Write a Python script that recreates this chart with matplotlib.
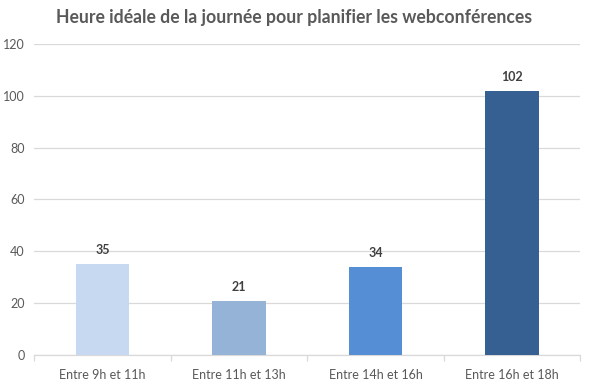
import matplotlib
matplotlib.use("Agg")
import matplotlib.pyplot as plt

categories = ["Entre 9h et 11h", "Entre 11h et 13h", "Entre 14h et 16h", "Entre 16h et 18h"]
values = [35, 21, 34, 102]
colors = ["#C6D9F1", "#95B3D7", "#558ED5", "#366092"]
yticks = [0, 20, 40, 60, 80, 100, 120]

plt.rcParams['font.family'] = ['Lato', 'DejaVu Sans']

fig = plt.figure(figsize=(5.92, 3.88), dpi=100)
ax = fig.add_axes([0.058, 0.085, 0.922, 0.802])

x = list(range(len(categories)))
bars = ax.bar(x, values, width=0.39, color=colors, zorder=3)
for xi, v in zip(x, values):
    ax.text(xi, v + 3, str(v), ha="center", va="bottom", fontsize=9,
            fontweight="bold", color="#404040")

ax.set_xlim(-0.5, len(categories) - 0.5)
ax.set_ylim(0, 120)
ax.set_yticks(yticks)
ax.set_yticklabels([str(t) for t in yticks])
ax.yaxis.grid(True, color="#D9D9D9", linewidth=0.9, zorder=0)
ax.set_axisbelow(True)

ax.set_xticks(x)
ax.set_xticklabels(categories)
ax.tick_params(axis="x", length=0, pad=10, labelsize=9, labelcolor="#595959")
ax.tick_params(axis="y", length=0, pad=7, labelsize=9, labelcolor="#595959")
# category boundary ticks
ax.set_xticks([i - 0.5 for i in range(len(categories) + 1)], minor=True)
ax.tick_params(axis="x", which="minor", length=4, color="#D9D9D9", width=0.9)

for s in ["top", "right", "left"]:
    ax.spines[s].set_visible(False)
ax.spines["bottom"].set_color("#D9D9D9")
ax.spines["bottom"].set_linewidth(0.9)

fig.text(0.497, 0.955, "Heure idéale de la journée pour planifier les webconférences",
         ha="center", va="center", fontsize=12.7, fontweight="bold", color="#595959")

fig.savefig("out.png", dpi=100)
